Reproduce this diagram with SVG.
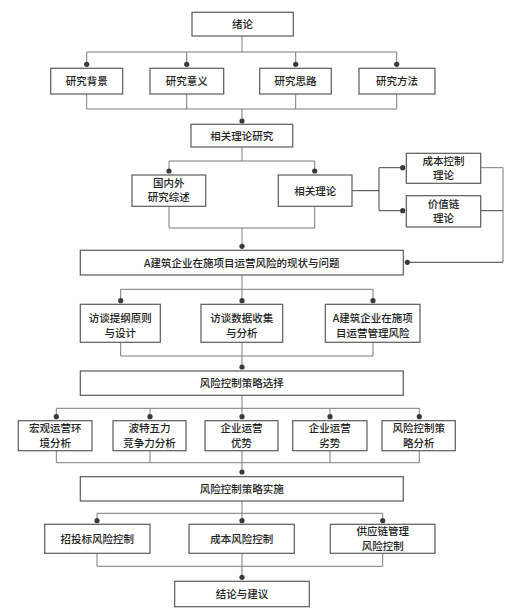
<svg xmlns="http://www.w3.org/2000/svg" width="529" height="615" viewBox="0 0 529 615">
<style>
.bx{fill:#fff;stroke:#5a5a5a;stroke-width:1.2}
.t{font-family:"Noto Sans CJK SC","Liberation Sans",sans-serif;font-size:10.5px;fill:#222;text-anchor:middle;font-weight:500}
.ln{fill:none;stroke:#7a7a7a;stroke-width:1}
.dk{fill:none;stroke:#444;stroke-width:1}
.d{fill:#3a3a3a}
</style>
<rect width="529" height="615" fill="#fff"/>
<g id="connectors">
<path class="ln" d="M242,36V52M86.7,52H396.7M86.7,52V64M186.7,52V64M295.7,52V64M396.7,52V64"/>
<path class="ln" d="M86.7,94V109M186.7,94V109M295.7,94V109M396.7,94V109M86.7,109H396.7M242,109V121"/>
<path class="ln" d="M242,147V161M169,161H314.7M169,161V171M314.7,161V171"/>
<path class="dk" d="M352,190.7H379M379,167.7V210.7M379,167.7H402.7M379,210.7H402.7"/>
<path class="ln" d="M480.7,167.7H503M503,167.7V262.3"/>
<path class="dk" d="M480.7,210.7H503M503,262.3H407.3"/>
<path class="ln" d="M169,206.3V228M314.7,206.3V228M169,228H314.7M242,228V246.3"/>
<path class="ln" d="M242,275V289.3M120.7,289.3H373M120.7,289.3V300.7M242,289.3V300.7M373,289.3V300.7"/>
<path class="ln" d="M120.7,342.3V356M242,342.3V356M373,342.3V356M120.7,356H373M242,356V367"/>
<path class="ln" d="M242,395.3V408.3M56.3,408.3H419.3M56.3,408.3V416.7M150,408.3V416.7M242,408.3V416.7M330,408.3V416.7M419.3,408.3V416.7"/>
<path class="ln" d="M56.3,450.7V462.7M150,450.7V462.7M242,450.7V462.7M330,450.7V462.7M419.3,450.7V462.7M56.3,462.7H419.3M242,462.7V472"/>
<path class="ln" d="M242,501V513.3M97,513.3H382.7M97,513.3V520.7M242,513.3V520.7M382.7,513.3V520.7"/>
<path class="ln" d="M97,553.3V566.3M242,553.3V566.3M382.7,553.3V566.3M97,566.3H382.7M242,566.3V577.3"/>
<g class="d">
<circle cx="86.7" cy="64.3" r="2.6"/><circle cx="186.7" cy="64.3" r="2.6"/><circle cx="295.7" cy="64.3" r="2.6"/><circle cx="396.7" cy="64.3" r="2.6"/>
<circle cx="242" cy="121" r="2.6"/>
<circle cx="169" cy="171" r="2.6"/><circle cx="314.7" cy="171" r="2.6"/>
<circle cx="402.7" cy="167.7" r="2.6"/><circle cx="402.7" cy="210.7" r="2.6"/>
<circle cx="407.3" cy="262.3" r="2.6"/>
<circle cx="242" cy="246.3" r="2.6"/>
<circle cx="120.7" cy="300.7" r="2.6"/><circle cx="242" cy="300.7" r="2.6"/><circle cx="373" cy="300.7" r="2.6"/>
<circle cx="242" cy="367" r="2.6"/>
<circle cx="56.3" cy="416.7" r="2.6"/><circle cx="150" cy="416.7" r="2.6"/><circle cx="242" cy="416.7" r="2.6"/><circle cx="330" cy="416.7" r="2.6"/><circle cx="419.3" cy="416.7" r="2.6"/>
<circle cx="242" cy="472" r="2.6"/>
<circle cx="97" cy="520.7" r="2.6"/><circle cx="242" cy="520.7" r="2.6"/><circle cx="382.7" cy="520.7" r="2.6"/>
<circle cx="242" cy="577.3" r="2.6"/>
</g>
</g>
<g id="n1"><rect class="bx" x="192" y="12.3" width="101.3" height="23.7"/><text class="t" x="242.6" y="28">绪论</text></g>
<g id="n2"><rect class="bx" x="50.7" y="68.3" width="72" height="25.7"/><text class="t" x="86.7" y="85">研究背景</text></g>
<g id="n3"><rect class="bx" x="150" y="68.3" width="73.7" height="25.7"/><text class="t" x="186.8" y="85">研究意义</text></g>
<g id="n4"><rect class="bx" x="259.7" y="68.3" width="71.6" height="25.7"/><text class="t" x="295.5" y="85">研究思路</text></g>
<g id="n5"><rect class="bx" x="359" y="68.3" width="76" height="25.7"/><text class="t" x="397" y="85">研究方法</text></g>
<g id="n6"><rect class="bx" x="191" y="124.3" width="101.7" height="22.7"/><text class="t" x="241.8" y="139.5">相关理论研究</text></g>
<g id="n7"><rect class="bx" x="132" y="175" width="73.7" height="31.3"/><text class="t" x="168.8" y="186.5">国内外</text><text class="t" x="168.8" y="201">研究综述</text></g>
<g id="n8"><rect class="bx" x="278.3" y="175" width="73.7" height="31.3"/><text class="t" x="315.2" y="194.5">相关理论</text></g>
<g id="n9"><rect class="bx" x="406.3" y="153.3" width="74.4" height="30"/><text class="t" x="443.5" y="164.8">成本控制</text><text class="t" x="443.5" y="179.3">理论</text></g>
<g id="n10"><rect class="bx" x="406.3" y="195.7" width="74.4" height="31.3"/><text class="t" x="443.5" y="207.8">价值链</text><text class="t" x="443.5" y="222.3">理论</text></g>
<g id="n11"><rect class="bx" x="80.3" y="250.3" width="323" height="24.7"/><text class="t" x="241.8" y="266.5">A建筑企业在施项目运营风险的现状与问题</text></g>
<g id="n12"><rect class="bx" x="80.3" y="304.3" width="80" height="38"/><text class="t" x="120.3" y="322.3">访谈提纲原则</text><text class="t" x="120.3" y="336.8">与设计</text></g>
<g id="n13"><rect class="bx" x="201" y="304.3" width="81.7" height="38"/><text class="t" x="241.8" y="322.3">访谈数据收集</text><text class="t" x="241.8" y="336.8">与分析</text></g>
<g id="n14"><rect class="bx" x="325.3" y="304.3" width="94.7" height="38"/><text class="t" x="372.7" y="322.3">A建筑企业在施项</text><text class="t" x="372.7" y="336.8">目运营管理风险</text></g>
<g id="n15"><rect class="bx" x="80.3" y="371" width="323" height="24.3"/><text class="t" x="241.8" y="387">风险控制策略选择</text></g>
<g id="n16"><rect class="bx" x="18.3" y="420.7" width="73.7" height="30"/><text class="t" x="55.2" y="432.2">宏观运营环</text><text class="t" x="55.2" y="446.7">境分析</text></g>
<g id="n17"><rect class="bx" x="113" y="420.7" width="73" height="30"/><text class="t" x="149.5" y="432.2">波特五力</text><text class="t" x="149.5" y="446.7">竞争力分析</text></g>
<g id="n18"><rect class="bx" x="205" y="420.7" width="73" height="30"/><text class="t" x="241.5" y="432.2">企业运营</text><text class="t" x="241.5" y="446.7">优势</text></g>
<g id="n19"><rect class="bx" x="292.7" y="420.7" width="74.3" height="30"/><text class="t" x="329.8" y="432.2">企业运营</text><text class="t" x="329.8" y="446.7">劣势</text></g>
<g id="n20"><rect class="bx" x="382" y="420.7" width="73.3" height="30"/><text class="t" x="418.7" y="432.2">风险控制策</text><text class="t" x="418.7" y="446.7">略分析</text></g>
<g id="n21"><rect class="bx" x="80.3" y="476.7" width="323" height="24.3"/><text class="t" x="241.8" y="492.5">风险控制策略实施</text></g>
<g id="n22"><rect class="bx" x="44.7" y="524.3" width="105.3" height="29"/><text class="t" x="97.3" y="542.5">招投标风险控制</text></g>
<g id="n23"><rect class="bx" x="189" y="524.3" width="105.3" height="29"/><text class="t" x="241.7" y="542.5">成本风险控制</text></g>
<g id="n24"><rect class="bx" x="330.3" y="524.3" width="104.7" height="29"/><text class="t" x="382.7" y="535.3">供应链管理</text><text class="t" x="382.7" y="549.8">风险控制</text></g>
<g id="n25"><rect class="bx" x="174.7" y="581.3" width="134.6" height="25.4"/><text class="t" x="242" y="597.5">结论与建议</text></g>
</svg>
